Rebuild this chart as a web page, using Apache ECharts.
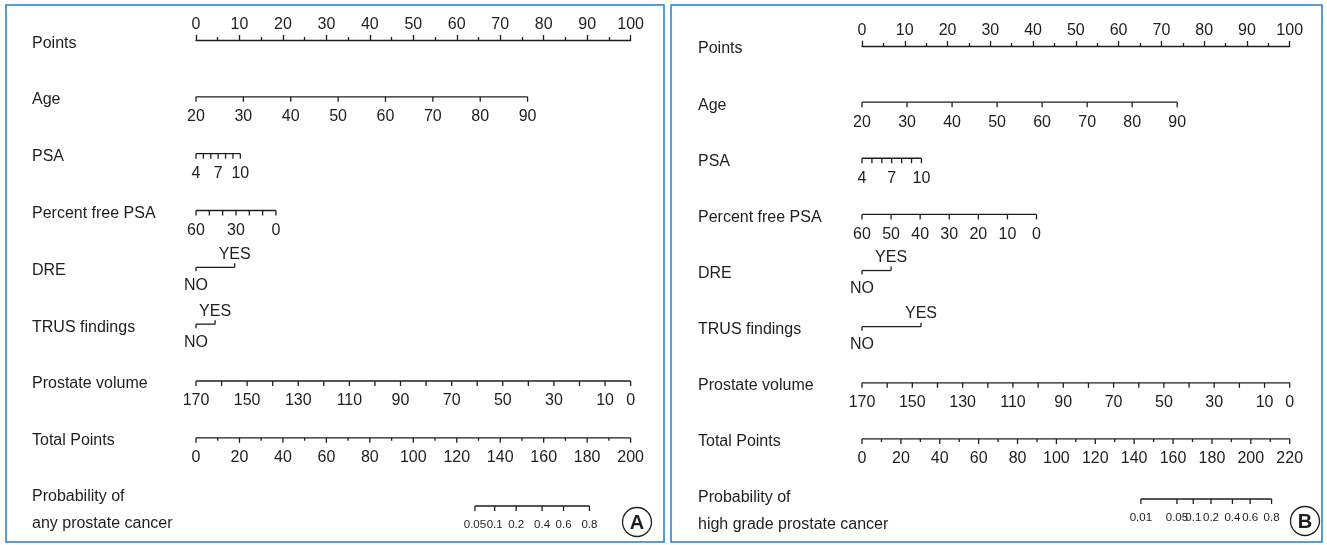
<!DOCTYPE html>
<html><head><meta charset="utf-8">
<script src="https://cdn.jsdelivr.net/npm/echarts@6/dist/echarts.min.js"></script>
<style>html,body{margin:0;padding:0;background:#fff}#c{width:1327px;height:545px}</style>
</head><body><div id="c"></div>
<script>
// ===================== DATA =====================
const rowTitles = ['Points', 'Age', 'PSA', 'Percent free PSA', 'DRE', 'TRUS findings', 'Prostate volume', 'Total Points'];
const probTitleA = ['Probability of', 'any prostate cancer'];
const probTitleB = ['Probability of', 'high grade prostate cancer'];
const panelLetters = ['A', 'B'];

const ageTicks = [20, 30, 40, 50, 60, 70, 80, 90];
const ageLabels = [20, 30, 40, 50, 60, 70, 80, 90];
const psaTicks = [4, 5, 6, 7, 8, 9, 10];
const psaLabels = [4, 7, 10];
const freePsaTicks = [60, 50, 40, 30, 20, 10, 0];
const freePsaLabelsA = [60, 30, 0];
const freePsaLabelsB = [60, 50, 40, 30, 20, 10, 0];
const binaryLevels = ['NO', 'YES'];
const volumeTicks = [170, 160, 150, 140, 130, 120, 110, 100, 90, 80, 70, 60, 50, 40, 30, 20, 10, 0];
const volumeLabels = [170, 150, 130, 110, 90, 70, 50, 30, 10, 0];
const totalTicksA = [0, 10, 20, 30, 40, 50, 60, 70, 80, 90, 100, 110, 120, 130, 140, 150, 160, 170, 180, 190, 200];
const totalLabelsA = [0, 20, 40, 60, 80, 100, 120, 140, 160, 180, 200];
const totalTicksB = [0, 10, 20, 30, 40, 50, 60, 70, 80, 90, 100, 110, 120, 130, 140, 150, 160, 170, 180, 190, 200, 210, 220];
const totalLabelsB = [0, 20, 40, 60, 80, 100, 120, 140, 160, 180, 200, 220];
const probTicksA = [0.05, 0.1, 0.2, 0.4, 0.6, 0.8];
const probTicksB = [0.01, 0.05, 0.1, 0.2, 0.4, 0.6, 0.8];

// Points given at each end of a variable's range
const agePointsA = [0, 76.3];      // age 20 -> 0, age 90 -> 76.3
const psaPointsA = [0, 10.2];      // PSA 4 -> 0, PSA 10 -> 10.2
const freePsaPointsA = [0, 18.4];  // 60% -> 0, 0% -> 18.4
const drePointsA = [0, 8.9];       // NO, YES
const trusPointsA = [0, 4.4];      // NO, YES
const volumePointsA = [0, 100];    // 170 -> 0, 0 -> 100
const totalMaxA = 200;
const probLogitA = [164.2, 12.17]; // total points at p = 0.5, total points per logit unit

const agePointsB = [0, 73.7];
const psaPointsB = [0, 13.9];
const freePsaPointsB = [0, 40.8];
const drePointsB = [0, 6.8];
const trusPointsB = [0, 13.8];
const volumePointsB = [0, 100];
const totalMaxB = 220;
const probLogitB = [195.1, 11.24];

// ===================== LAYOUT / STYLE =====================
const FONT = '"Liberation Sans", Arial, Helvetica, sans-serif';
const FS = 16;
const INK = '#1e1e1e';
const FRAME = '#1f7fcf';
const LW = 1.3;

function lin(v, v0, v1, p0, p1) { return p0 + (v - v0) * (p1 - p0) / (v1 - v0); }
function logit(p) { return Math.log(p / (1 - p)); }

function scaleRow(row, title, ticks, labels, vRange, pRange, labelSize, majorSet) {
  const f = v => lin(v, vRange[0], vRange[1], pRange[0], pRange[1]);
  const xs = ticks.map(f);
  return {
    row, title, titleRow: row, titleDy: [3],
    x0: Math.min(...xs), x1: Math.max(...xs),
    ticks: ticks.map(t => ({ x: f(t), dir: 1, len: majorSet ? (majorSet.includes(t) ? 5 : 3) : 5 })),
    labels: labels.map(l => ({ x: f(l), text: String(l), dy: 20, size: labelSize }))
  };
}
function binaryRow(row, title, pts) {
  return {
    row, title: [title], titleRow: row, titleDy: [3],
    x0: pts[0], x1: pts[1],
    ticks: [{ x: pts[0], dir: 1, len: 4 }, { x: pts[1], dir: -1, len: 4 }],
    labels: [
      { x: pts[0], text: binaryLevels[0], dy: 18, size: FS },
      { x: pts[1], text: binaryLevels[1], dy: -13, size: FS }
    ]
  };
}
function probRow(row, title, ticks, logitPar, totalMax) {
  const f = p => (logitPar[0] + logitPar[1] * logit(p)) * 100 / totalMax;
  const xs = ticks.map(f);
  return {
    row, title, titleRow: 7, titleDy: [59, 86],
    x0: Math.min(...xs), x1: Math.max(...xs),
    ticks: ticks.map(t => ({ x: f(t), dir: 1, len: 5 })),
    labels: ticks.map(t => ({ x: f(t), text: String(t), dy: 19, size: 11.5 }))
  };
}

function panelRows(P) {
  return [
    scaleRow(1, [rowTitles[1]], ageTicks, ageLabels, [20, 90], P.age, FS),
    scaleRow(2, [rowTitles[2]], psaTicks, psaLabels, [4, 10], P.psa, FS),
    scaleRow(3, [rowTitles[3]], freePsaTicks, P.freeLabels, [60, 0], P.free, FS),
    binaryRow(4, rowTitles[4], P.dre),
    binaryRow(5, rowTitles[5], P.trus),
    scaleRow(6, [rowTitles[6]], volumeTicks, volumeLabels, [170, 0], P.vol, FS),
    scaleRow(7, [rowTitles[7]], P.totalTicks, P.totalLabels, [0, P.totalMax], [0, 100], FS, P.totalLabels),
    probRow(P.probRow, P.probTitle, P.probTicks, P.probLogit, P.totalMax)
  ];
}

const panels = [
  { grid: { left: 196, top: 40, width: 434.6, height: 466 }, probRow: 8.2,
    age: agePointsA, psa: psaPointsA, free: freePsaPointsA, freeLabels: freePsaLabelsA,
    dre: drePointsA, trus: trusPointsA, vol: volumePointsA,
    totalTicks: totalTicksA, totalLabels: totalLabelsA, totalMax: totalMaxA,
    probTicks: probTicksA, probLogit: probLogitA, probTitle: probTitleA },
  { grid: { left: 862, top: 46, width: 427.7, height: 453 }, probRow: 8.07,
    age: agePointsB, psa: psaPointsB, free: freePsaPointsB, freeLabels: freePsaLabelsB,
    dre: drePointsB, trus: trusPointsB, vol: volumePointsB,
    totalTicks: totalTicksB, totalLabels: totalLabelsB, totalMax: totalMaxB,
    probTicks: probTicksB, probLogit: probLogitB, probTitle: probTitleB }
];

function txt(x, y, text, size, align, weight) {
  return {
    type: 'text', x: x, y: y,
    style: { text: text, fill: INK, font: (weight || 'normal') + ' ' + size + 'px ' + FONT,
      textAlign: align || 'center', textVerticalAlign: 'middle', align: align || 'center', verticalAlign: 'middle' }
  };
}

function makeRender(specs) {
  return function (params, api) {
    const s = specs[api.value(2)];
    const y = api.coord([0, s.row])[1];
    const X = v => api.coord([v, s.row])[0];
    const kids = [];
    const ln = (x1, y1, x2, y2) => kids.push({ type: 'line', shape: { x1, y1, x2, y2 }, style: { stroke: INK, lineWidth: LW } });
    ln(X(s.x0), y, X(s.x1), y);
    s.ticks.forEach(t => ln(X(t.x), y, X(t.x), y + t.dir * t.len));
    s.labels.forEach(l => kids.push(txt(X(l.x), y + l.dy, l.text, l.size)));
    const ty = api.coord([0, s.titleRow])[1];
    s.title.forEach((t, i) => kids.push(txt(X(0) - 164, ty + s.titleDy[i], t, FS, 'left')));
    return { type: 'group', children: kids };
  };
}

const grids = [], xAxes = [], yAxes = [], series = [];
panels.forEach((P, k) => {
  grids.push(Object.assign({ containLabel: false, outerBoundsMode: 'none' }, P.grid));
  xAxes.push({
    type: 'value', gridIndex: k, min: 0, max: 100, interval: 10, position: 'top',
    axisLine: { show: true, onZero: false, lineStyle: { color: INK, width: LW } },
    axisTick: { show: true, length: 5, inside: false, lineStyle: { color: INK, width: LW } },
    minorTick: { show: true, splitNumber: 2, length: 3, lineStyle: { color: INK, width: LW } },
    axisLabel: { color: INK, fontSize: FS, fontFamily: FONT, margin: 7, showMinLabel: true, showMaxLabel: true, hideOverlap: false },
    splitLine: { show: false }, minorSplitLine: { show: false }
  });
  yAxes.push({ type: 'value', gridIndex: k, min: 0, max: P.probRow, inverse: true, show: false });
  const specs = panelRows(P);
  series.push({
    type: 'custom', xAxisIndex: k, yAxisIndex: k, clip: false, silent: true,
    renderItem: makeRender(specs),
    encode: { x: 0, y: 1 },
    data: specs.map((s, i) => [0, s.row, i])
  });
});

const chart = echarts.init(document.getElementById('c'));
chart.setOption({
  animation: false,
  backgroundColor: '#fff',
  grid: grids, xAxis: xAxes, yAxis: yAxes, series: series,
  graphic: [
    { type: 'rect', shape: { x: 6, y: 5, width: 658, height: 537 }, style: { fill: 'none', stroke: FRAME, lineWidth: 1.5 } },
    { type: 'rect', shape: { x: 671, y: 5, width: 651, height: 537 }, style: { fill: 'none', stroke: FRAME, lineWidth: 1.5 } },
    { type: 'text', x: 32, y: 44, style: { text: rowTitles[0], fill: INK, font: FS + 'px ' + FONT, textVerticalAlign: 'middle', verticalAlign: 'middle' } },
    { type: 'text', x: 698, y: 49, style: { text: rowTitles[0], fill: INK, font: FS + 'px ' + FONT, textVerticalAlign: 'middle', verticalAlign: 'middle' } },
    { type: 'circle', shape: { cx: 637, cy: 522, r: 14.5 }, style: { fill: '#fff', stroke: INK, lineWidth: 1.3 } },
    { type: 'text', x: 637, y: 523, style: { text: panelLetters[0], fill: INK, font: 'bold 20px ' + FONT, textAlign: 'center', textVerticalAlign: 'middle', align: 'center', verticalAlign: 'middle' } },
    { type: 'circle', shape: { cx: 1305, cy: 521, r: 14.5 }, style: { fill: '#fff', stroke: INK, lineWidth: 1.3 } },
    { type: 'text', x: 1305, y: 522, style: { text: panelLetters[1], fill: INK, font: 'bold 20px ' + FONT, textAlign: 'center', textVerticalAlign: 'middle', align: 'center', verticalAlign: 'middle' } }
  ]
});
</script>
</body></html>
